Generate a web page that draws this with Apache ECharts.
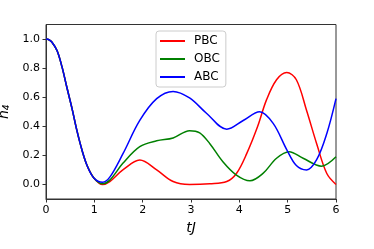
<!DOCTYPE html>
<html><head><meta charset="utf-8">
<script src="https://cdn.jsdelivr.net/npm/echarts@6/dist/echarts.min.js"></script>
<style>html,body{margin:0;padding:0;background:#fff}#c{width:374px;height:249px}</style>
</head><body><div id="c"></div>
<script>
const seriesNames = ['PBC', 'OBC', 'ABC'];
const seriesColors = ['#ff0000', '#008000', '#0000ff'];
const commonT = [0, 0.06, 0.12, 0.23, 0.33, 0.43, 0.54, 0.64, 0.75, 0.85, 0.99];
const commonN = [1.0, 0.995, 0.98, 0.92, 0.81, 0.67, 0.52, 0.37, 0.23, 0.13, 0.045];
const pbcT = [1.17, 1.32, 1.59, 1.94, 2.29, 2.63, 2.97, 3.39, 3.74, 3.94, 4.15, 4.38, 4.56, 4.77, 4.98, 5.18, 5.39, 5.60, 5.81, 6.0];
const pbcN = [0.0, 0.02, 0.10, 0.168, 0.10, 0.02, 0.0, 0.005, 0.02, 0.075, 0.21, 0.40, 0.58, 0.72, 0.77, 0.72, 0.51, 0.28, 0.075, 0.0];
const obcT = [1.17, 1.32, 1.59, 1.94, 2.29, 2.63, 2.97, 3.18, 3.39, 3.66, 3.94, 4.22, 4.49, 4.77, 5.03, 5.32, 5.70, 6.0];
const obcN = [0.005, 0.03, 0.145, 0.26, 0.30, 0.32, 0.37, 0.355, 0.28, 0.156, 0.064, 0.025, 0.076, 0.18, 0.225, 0.18, 0.126, 0.19];
const abcT = [1.17, 1.32, 1.59, 1.94, 2.29, 2.63, 2.97, 3.32, 3.74, 4.08, 4.42, 4.70, 4.98, 5.18, 5.39, 5.60, 5.81, 6.0];
const abcN = [0.015, 0.05, 0.21, 0.44, 0.59, 0.64, 0.595, 0.49, 0.38, 0.44, 0.50, 0.42, 0.24, 0.13, 0.10, 0.17, 0.35, 0.59];
const xTicks = [0, 1, 2, 3, 4, 5, 6];
const yTicks = [0.0, 0.2, 0.4, 0.6, 0.8, 1.0];

function pairs(t, n) { return t.map((v, i) => [v, n[i]]); }
const allT = [pbcT, obcT, abcT];
const allN = [pbcN, obcN, abcN];
const font = 'DejaVu Sans';
const chart = echarts.init(document.getElementById('c'));
chart.setOption({
  animation: false,
  grid: { left: 46, right: 38, top: 24.5, bottom: 50, show: true, borderColor: '#333', borderWidth: 1, backgroundColor: 'transparent', outerBoundsMode: 'none', containLabel: false },
  legend: {
    data: seriesNames, orient: 'vertical', left: 156, top: 31,
    backgroundColor: '#fff', borderColor: '#ccc', borderWidth: 1, borderRadius: 3,
    padding: [4, 6, 4, 4], itemGap: 6, itemWidth: 25, itemHeight: 2,
    icon: 'rect', textStyle: { fontFamily: font, fontSize: 12, color: '#000', padding: [0, 0, 0, 4] }
  },
  xAxis: {
    type: 'value', min: 0, max: 6, interval: 1,
    name: 'tJ', nameLocation: 'middle', nameGap: 20,
    nameTextStyle: { fontFamily: font, fontSize: 14, fontStyle: 'italic', color: '#000' },
    axisLine: { show: true, onZero: false, lineStyle: { color: '#333' } },
    axisTick: { show: true, length: 3.5, lineStyle: { color: '#333' } },
    axisLabel: { fontFamily: font, fontSize: 11, color: '#000', margin: 6 },
    splitLine: { show: false }
  },
  yAxis: {
    type: 'value', min: -0.1, max: 1.1,
    name: '{n|n}{s|4}', nameLocation: 'middle', nameGap: 28,
    nameTextStyle: { fontFamily: font, color: '#000',
      rich: { n: { fontFamily: font, fontSize: 14, fontStyle: 'italic', color: '#000' },
              s: { fontFamily: font, fontSize: 9, fontStyle: 'italic', color: '#000', verticalAlign: 'bottom', padding: [6, 0, 0, 0] } } },
    axisLine: { show: true, lineStyle: { color: '#333' } },
    axisTick: { show: true, length: 3.5, customValues: yTicks, lineStyle: { color: '#333' } },
    axisLabel: { fontFamily: font, fontSize: 11, color: '#000', margin: 6, customValues: yTicks, formatter: v => v.toFixed(1) },
    splitLine: { show: false }
  },
  series: seriesNames.map((name, i) => ({
    name, type: 'line', smooth: 0.35, symbol: 'none',
    lineStyle: { width: 1.5, color: seriesColors[i] }, itemStyle: { color: seriesColors[i] },
    data: pairs(commonT.concat(allT[i]), commonN.concat(allN[i])),
    z: i === 2 ? 3 : 2
  }))
});
</script></body></html>
